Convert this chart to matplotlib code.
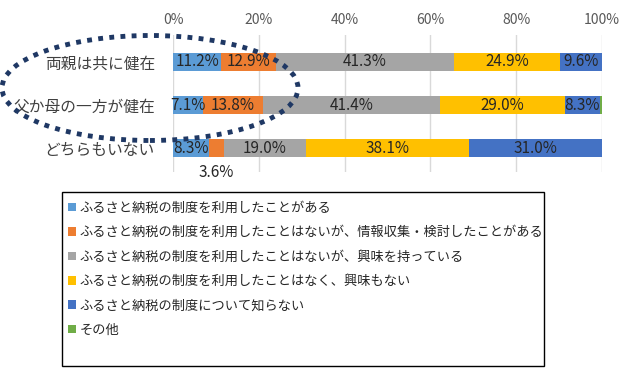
import matplotlib
matplotlib.use("Agg")
import matplotlib.pyplot as plt
from matplotlib.patches import Ellipse, Patch, Rectangle
import numpy as np

plt.rcParams['font.family'] = ['Noto Sans CJK JP', 'DejaVu Sans']

groups = ['両親は共に健在', '父か母の一方が健在', 'どちらもいない']
series = [
    'ふるさと納税の制度を利用したことがある',
    'ふるさと納税の制度を利用したことはないが、情報収集・検討したことがある',
    'ふるさと納税の制度を利用したことはないが、興味を持っている',
    'ふるさと納税の制度を利用したことはなく、興味もない',
    'ふるさと納税の制度について知らない',
    'その他',
]
used = [11.2, 7.1, 8.3]
researched = [12.9, 13.8, 3.6]
interested = [41.3, 41.4, 19.0]
not_interested = [24.9, 29.0, 38.1]
unknown = [9.6, 8.3, 31.0]
other = [0.1, 0.4, 0.0]
colors = ['#5B9BD5', '#ED7D31', '#A5A5A5', '#FFC000', '#4472C4', '#70AD47']
ticks = [0, 20, 40, 60, 80, 100]

values = [used, researched, interested, not_interested, unknown, other]

fig = plt.figure(figsize=(6.31, 3.70), dpi=100)
ax = fig.add_axes([173/631, 1 - 172/370, (602 - 173)/631, 137/370])

y = np.arange(len(groups))
left = np.zeros(len(groups))
for k, vals in enumerate(values):
    vals = np.array(vals)
    ax.barh(y, vals, left=left, height=0.42, color=colors[k], zorder=3)
    if k < 5:
        for i, v in enumerate(vals):
            cx = left[i] + v / 2
            if v < 5:
                # small segment: label goes below the bar
                ax.text(cx, y[i] + 0.55, '%.1f%%' % v, ha='center', va='center',
                        fontsize=11, color='#262626')
            else:
                ax.text(cx, y[i], '%.1f%%' % v, ha='center', va='center',
                        fontsize=11, color='#262626', zorder=4)
    left = left + vals

ax.set_xlim(0, 100)
ax.set_ylim(2.55, -0.62)
ax.set_xticks(ticks)
ax.set_xticklabels(['%d%%' % t for t in ticks], fontsize=10, color='#595959')
ax.xaxis.tick_top()
ax.set_yticks(y)
ax.set_yticklabels(groups, fontsize=11.3, color='#404040')
ax.tick_params(length=0)
ax.tick_params(axis='y', pad=13)
ax.tick_params(axis='x', pad=6)
ax.grid(axis='x', color='#D9D9D9', lw=1, zorder=0)
for s in ax.spines.values():
    s.set_visible(False)

# dotted ellipse around the first two rows
ell = Ellipse((150/631, 1 - 88/370), 296/631, 105/370, transform=fig.transFigure,
              fill=False, edgecolor='#1F3864', lw=3.5, linestyle=(0, (1.0, 1.3)))
fig.add_artist(ell)

# legend frame
fig.add_artist(Rectangle((62/631, 1 - 366/370), (544 - 62)/631, (366 - 192)/370,
                         transform=fig.transFigure, fill=False, edgecolor='#000000', lw=1))

handles = [Patch(facecolor=c, edgecolor='none') for c in colors]
leg = fig.legend(handles, series, loc='upper left', bbox_to_anchor=(62/631, 1 - 196/370),
                 fontsize=9.5, frameon=False, handlelength=0.6,
                 handleheight=0.6, handletextpad=0.3, labelspacing=0.86,
                 borderpad=0.45, borderaxespad=0)
for t in leg.get_texts():
    t.set_color('#262626')

fig.savefig('out.png', dpi=100)
